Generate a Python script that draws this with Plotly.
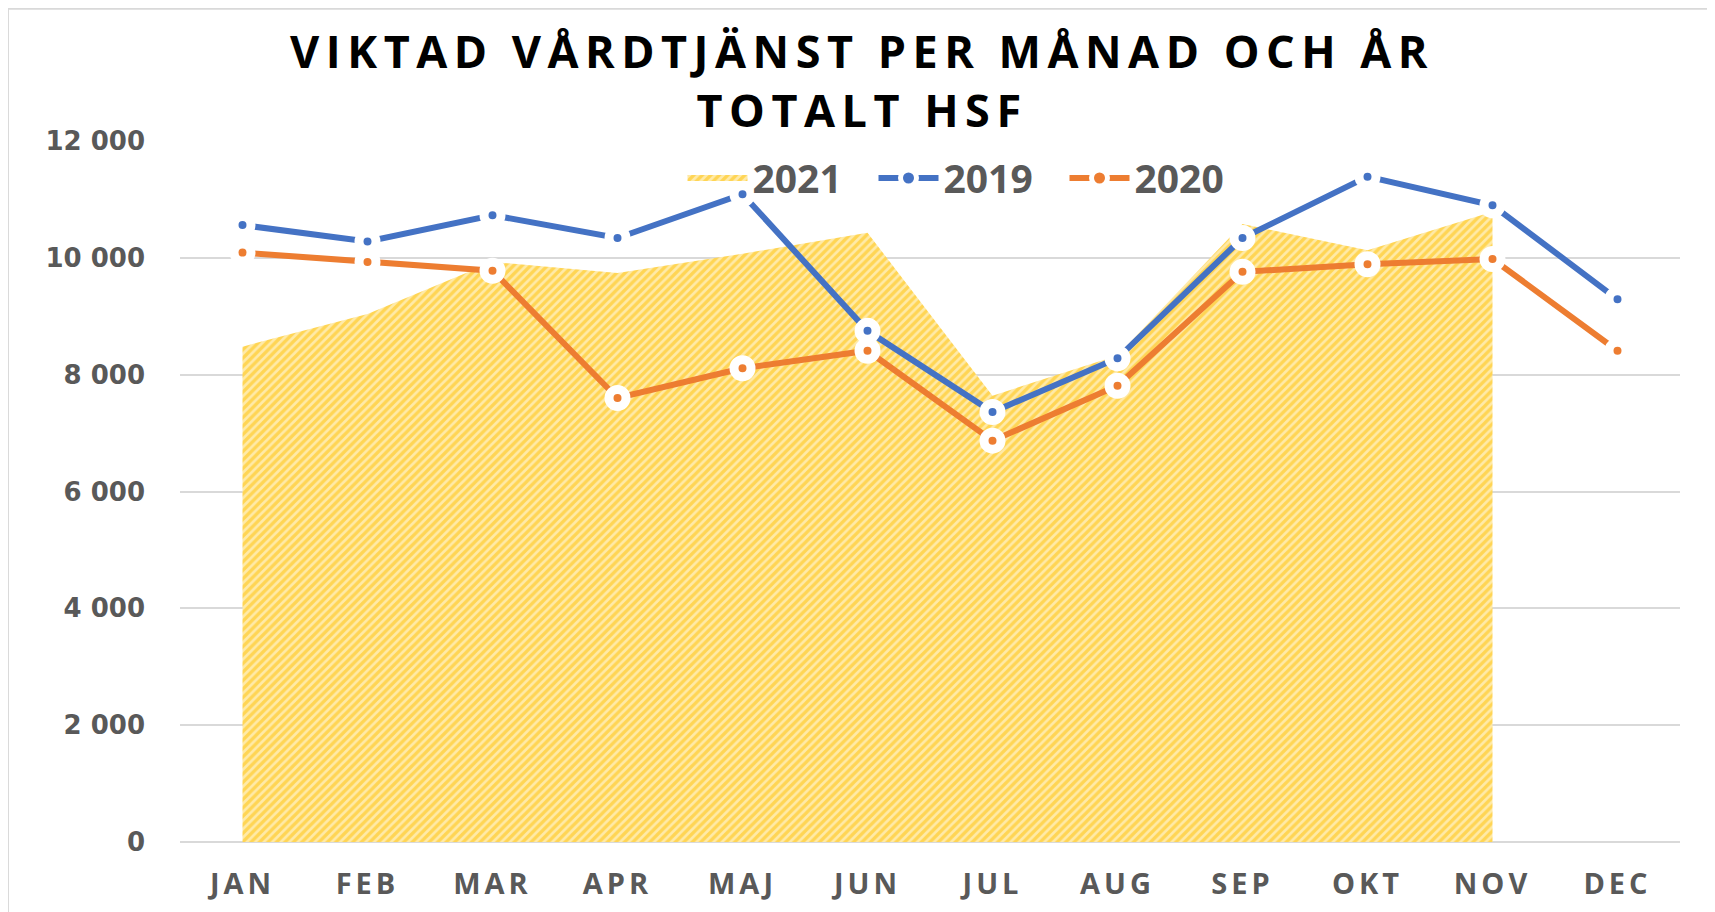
import plotly.graph_objects as go

months = ["JAN", "FEB", "MAR", "APR", "MAJ", "JUN", "JUL", "AUG", "SEP", "OKT", "NOV", "DEC"]
v2021 = [8480, 9040, 9930, 9740, 10070, 10430, 7640, 8330, 10580, 10130, 10790, None]
v2019 = [10560, 10280, 10730, 10340, 11090, 8750, 7360, 8280, 10340, 11390, 10900, 9290]
v2020 = [10090, 9930, 9780, 7600, 8110, 8410, 6870, 7810, 9760, 9890, 9980, 8410]
yticks = [0, 2000, 4000, 6000, 8000, 10000, 12000]

FONT = "Open Sans"
GRAY = "#595959"

fig = go.Figure()
fig.add_trace(go.Scatter(
    x=months, y=v2021, name="2021", mode="none", fill="tozeroy",
    fillcolor="#FFE08A",
    fillpattern=dict(shape="/", fgcolor="#FFC000", bgcolor="#FFEAA8", size=6, solidity=0.55),
))
fig.add_trace(go.Scatter(
    x=months, y=v2019, name="2019", mode="lines+markers",
    line=dict(color="#4472C4", width=6),
    marker=dict(symbol="circle", size=17, color="#4472C4", line=dict(color="white", width=9)),
))
fig.add_trace(go.Scatter(
    x=months, y=v2020, name="2020", mode="lines+markers",
    line=dict(color="#ED7D31", width=6),
    marker=dict(symbol="circle", size=17, color="#ED7D31", line=dict(color="white", width=9)),
))

fig.update_layout(
    width=1715, height=912,
    paper_bgcolor="white", plot_bgcolor="white",
    margin=dict(l=172, r=43, t=133, b=78),
    separators=", ",
    title=dict(
        text="VIKTAD VÅRDTJÄNST PER MÅNAD OCH ÅR<br>TOTALT HSF",
        font=dict(family=FONT, size=45, color="black", weight="bold"),
        x=0.498, xanchor="center", xref="container", y=0.934, yanchor="middle", yref="container",
    ),
    showlegend=True,
    legend=dict(
        orientation="h", x=0.335, xanchor="left", y=0.947, yanchor="middle",
        font=dict(family=FONT, size=39, color=GRAY, weight="bold"),
        bgcolor="rgba(0,0,0,0)", itemwidth=60, traceorder="normal",
        entrywidth=116, entrywidthmode="pixels",
    ),
    xaxis=dict(
        type="category", range=[-0.5, 11.5], showgrid=False, showline=False, zeroline=False,
        ticks="", tickfont=dict(family=FONT, size=29, color=GRAY, weight="bold"),
        ticklabelstandoff=22,
    ),
    yaxis=dict(
        range=[0, 12000], tickvals=yticks, tickformat=",d",
        showgrid=True, gridcolor="#D9D9D9", gridwidth=1.5,
        zeroline=True, zerolinecolor="#D9D9D9", zerolinewidth=1.5, showline=False,
        ticks="", tickfont=dict(family="DejaVu Sans", size=26, color=GRAY, weight="bold"),
        ticklabelstandoff=34,
    ),
    shapes=[
        dict(type="line", xref="paper", yref="paper", x0=-0.1147, x1=1.05, y0=1.1887, y1=1.1887,
             line=dict(color="#D9D9D9", width=2)),
        dict(type="line", xref="paper", yref="paper", x0=-0.1147, x1=-0.1147, y0=-0.2, y1=1.1887,
             line=dict(color="#D9D9D9", width=2)),
    ],
)

post = """
var gd = document.getElementById('{plot_id}');
function sp(){
  gd.querySelectorAll('.gtitle').forEach(function(e){ e.style.letterSpacing='6.5px'; });
  gd.querySelectorAll('.xtick text').forEach(function(e){ e.style.letterSpacing='4px'; });
}
sp();
gd.on && gd.on('plotly_afterplot', sp);
"""
fig.write_html("out.html", post_script=post)
